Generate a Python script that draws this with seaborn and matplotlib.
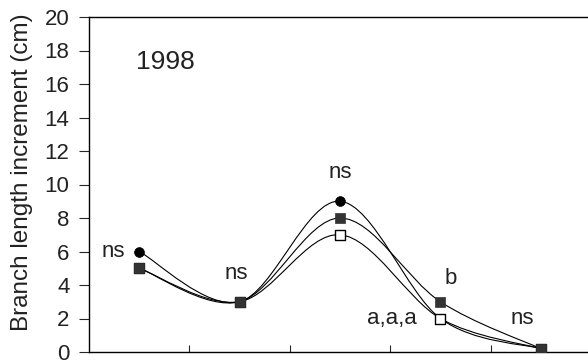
import numpy as np
import pandas as pd
import seaborn as sns
import matplotlib.pyplot as plt
from matplotlib.path import Path
from matplotlib.patches import PathPatch

# values (5 sampling dates, year 1998)
dates = [0, 1, 2, 3, 4]
circle_black = [6.0, 3.0, 9.0, 2.0, 0.2]
square_dark = [5.0, 3.0, 8.0, 3.0, 0.2]
square_white = [5.0, 3.0, 7.0, 2.0, 0.2]

sig_text = ['ns', 'ns', 'ns', 'b', 'a,a,a', 'ns']
sig_x = [-0.26, 0.97, 2.0, 3.1, 2.52, 3.82]
sig_y = [6.0, 4.7, 10.7, 4.4, 2.0, 2.0]

sns.set_style('ticks')
plt.rcParams['font.family'] = ['Liberation Sans', 'DejaVu Sans']


def smooth_path(xs, ys):
    # excel-like smoothed line: cubic bezier through the points
    pts = np.column_stack([xs, ys]).astype(float)
    ext = np.vstack([pts[0], pts, pts[-1]])
    verts = [pts[0]]
    codes = [Path.MOVETO]
    for i in range(len(pts) - 1):
        p0, p1, p2, p3 = ext[i], ext[i + 1], ext[i + 2], ext[i + 3]
        c1 = p1 + (p2 - p0) / 6.0
        c2 = p2 - (p3 - p1) / 6.0
        verts += [c1, c2, p2]
        codes += [Path.CURVE4] * 3
    return Path(verts, codes)


fig = plt.figure(figsize=(5.88, 3.64), dpi=100)
ax = fig.add_axes([89 / 588, 12 / 364, 502 / 588, 335 / 364])

for ys in [circle_black, square_dark, square_white]:
    ax.add_patch(PathPatch(smooth_path(dates, ys), fill=False,
                           edgecolor='black', lw=0.8, zorder=2))

df = pd.DataFrame({'date': dates, 'black': circle_black,
                   'dark': square_dark, 'white': square_white})
sns.scatterplot(data=df, x='date', y='black', marker='o', s=50,
                color='black', edgecolor='black', linewidth=0.5, ax=ax, zorder=3)
sns.scatterplot(data=df, x='date', y='white', marker='s', s=62,
                color='white', edgecolor='black', linewidth=1.0, ax=ax, zorder=4)
sns.scatterplot(data=df, x='date', y='dark', marker='s', s=62,
                color='#333333', edgecolor='#333333', linewidth=0.5, ax=ax, zorder=5)

for t, x, y in zip(sig_text, sig_x, sig_y):
    ax.text(x, y, t, ha='center', va='center', fontsize=16, color='#222222')
ax.text(0.26, 17.3, '1998', ha='center', va='center', fontsize=19, color='#222222')

ax.set_xlim(-0.5, 4.5)
ax.set_ylim(0, 20)
ax.set_yticks(range(0, 21, 2))
ax.set_xticks([0.5, 1.5, 2.5, 3.5])
ax.set_xticklabels([])
ax.set_xlabel('')
ax.set_ylabel('Branch length increment (cm)', fontsize=17.5, color='#222222')
ax.yaxis.set_label_coords(-0.112, 0.537)
ax.tick_params(axis='y', direction='out', length=7, width=0.8, labelsize=16,
               pad=7, labelcolor='#222222')
ax.tick_params(axis='x', direction='in', length=5, width=0.8)
for sp in ax.spines.values():
    sp.set_linewidth(1.0)
    sp.set_color('black')

fig.savefig('out.png', dpi=100)
